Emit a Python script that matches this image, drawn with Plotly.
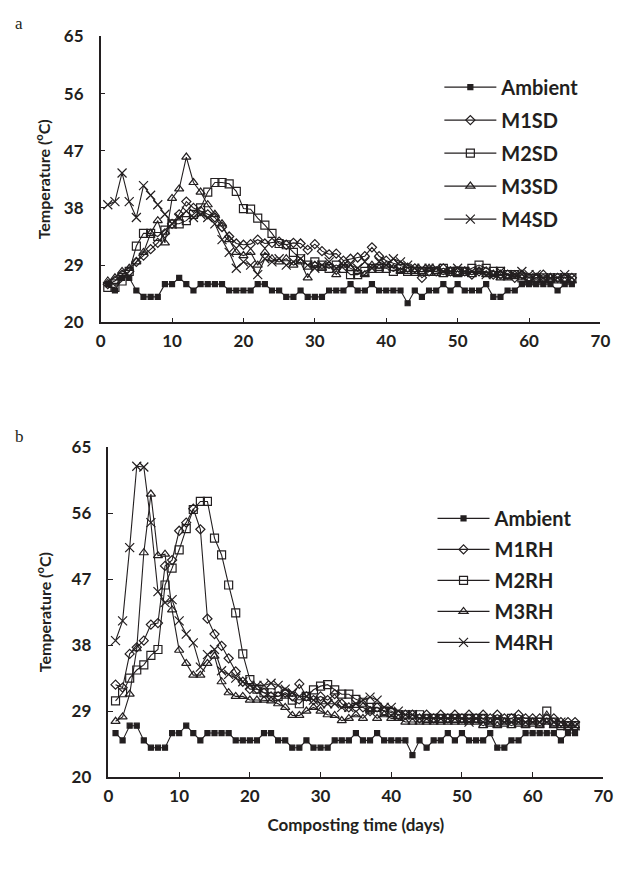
import plotly.graph_objects as go

# ---------------- data ----------------
days = list(range(1, 67))

ambient = [26, 25, 27, 27, 25, 24, 24, 24, 26, 26,
           27, 26, 25, 26, 26, 26, 26, 25, 25, 25,
           25, 26, 26, 25, 25, 24, 24, 25, 24, 24,
           24, 25, 25, 25, 26, 25, 25, 26, 25, 25,
           25, 25, 23, 25, 24, 25, 25, 26, 25, 26,
           25, 25, 25, 26, 24, 24, 25, 25, 26, 26,
           26, 26, 26, 25, 26, 26]

m1sd = [26, 26.5, 27.5, 28, 29.5, 30.5, 31.5, 32.5, 34, 35.5,
        37, 39, 38, 37.5, 37, 36.5, 35, 33.5, 32.4, 32.2,
        32.3, 33, 32.4, 32.5, 32.7, 32.2, 32.5, 32.4, 31.4, 32.3,
        31.2, 30.7, 30.8, 29.7, 30, 30.2, 30.4, 31.8, 30.4, 29.7,
        29.3, 28.9, 28.6, 28.5, 27, 28, 28, 28.5, 28, 28,
        28, 27.5, 28, 28, 27.5, 27.5, 27.5, 27, 27.5, 27,
        27, 27.5, 27, 27, 27, 27]

m2sd = [25.5, 25.5, 26.5, 28, 32, 34, 34, 33.5, 34.5, 35.5,
        35.5, 36, 37, 38, 40.5, 42, 42, 41.8, 40.6, 37.9,
        37.8, 36.4, 35.3, 34, 32.4, 32.2, 31, 30, 29, 29.5,
        29, 28.5, 29, 28.5, 27.5, 27.5, 28, 28.5, 28.5, 28.5,
        28, 28.5, 28, 28, 28, 28, 28, 28.5, 28, 28,
        28, 28.5, 29, 28.5, 28, 28, 27.5, 27.5, 27, 26.5,
        27, 27, 27, 27, 27, 27]

m3sd = [26.5, 27, 28, 28.5, 29.5, 31, 34, 36, 32.5, 39.5,
        41, 46, 42, 40.5, 38.5, 37, 35.5, 33, 31, 30.5,
        31, 29, 31, 30, 29.5, 30, 29, 29.5, 27, 29,
        28.5, 29, 27.5, 29, 28.5, 28, 27.5, 29, 28.5, 29,
        28.5, 28, 28, 28, 28, 28.5, 28, 27.5, 28, 27.5,
        28, 27.5, 28, 27.5, 27.5, 27, 27, 27.5, 27, 26.5,
        27, 26.5, 27, 26.5, 26.5, 26.5]

m4sd = [38.5, 39, 43.5, 39, 36.5, 41.5, 40, 38.5, 37, 35.5,
        36.5, 37.5, 36.5, 37, 36.5, 35.5, 33, 31, 28.5, 29.5,
        29, 27.5, 30, 29.5, 30, 29, 29.5, 30, 29, 28.5,
        29, 29.5, 28.5, 29, 29, 28.5, 29.5, 28.5, 29.5, 29,
        30, 29.5, 29, 28.5, 28.5, 28.5, 28.5, 28, 28, 28.5,
        28, 28, 28, 27.5, 27.5, 28, 27.5, 27.5, 28, 27.5,
        27.5, 27, 27, 27, 27.5, 27]

m1rh = [32.6, 32.2, 36.8, 37.7, 38.6, 40.8, 41, 48.8, 49.6, 53.6,
        54.7, 56.6, 53.8, 41.6, 39.5, 37.9, 36.2, 34.4, 33, 32,
        32, 31.5, 31, 31, 31.5, 31, 32.7, 31, 30.5, 31,
        30.5, 31.3, 30, 29.5, 29.5, 29.5, 29, 29.5, 29, 29,
        28.5, 28.5, 28.5, 28, 28.5, 28, 28.5, 28, 28.5, 28,
        28.5, 28, 28.5, 28, 28.5, 28, 28, 28.5, 28, 28,
        28, 28, 28, 27.5, 27.5, 27.5]

m2rh = [30.4, 31.5, 33.5, 34.6, 35.3, 36.6, 37.4, 46.2, 48.5, 51,
        53.9, 56.5, 57.6, 57.6, 52.6, 50.3, 46.2, 42.4, 36.8, 33.3,
        32, 31.5, 31.5, 31, 31.3, 30.5, 30, 31, 31.9, 32.4,
        32.6, 31.9, 31.3, 31.3, 30.6, 30.2, 29.5, 29.5, 29, 28.8,
        28.5, 28.5, 28.5, 28.5, 28, 28, 28, 28, 28, 28,
        28, 28, 28, 27.5, 27.5, 27.5, 28, 27.5, 27.5, 27.5,
        27.5, 29, 27.5, 27, 27, 27]

m3rh = [27.6, 28.2, 31.3, 37.5, 50.6, 58.6, 50.2, 50.4, 42.8, 37.3,
        35.5, 33.9, 33.9, 35.5, 36.5, 33, 31.5, 31, 31, 30.5,
        30.5, 30.5, 30.4, 30, 29.5, 28.4, 28.4, 29, 29.5, 29,
        28.5, 28.4, 27.7, 28, 28.5, 28, 29, 28, 28.5, 28,
        28, 27.5, 27.5, 27.5, 27.5, 27.5, 27.5, 27.5, 27.5, 27.5,
        27.5, 27.5, 27, 27.5, 27, 27.5, 27, 27.5, 27, 27.5,
        27, 27.5, 27, 27, 27, 27]

m4rh = [38.6, 41.3, 51.3, 62.4, 62.3, 54.7, 45.3, 43.8, 44.2, 41.3,
        39.5, 38.3, 35, 36.7, 37.4, 34.5, 34, 33.5, 33, 32.5,
        32.5, 32.5, 32.8, 32.5, 32, 31.5, 31, 31, 30.5, 30,
        30, 30, 29.5, 29.5, 30, 30.5, 30.9, 30.5, 29.5, 29.5,
        29, 28.5, 28.5, 28, 28, 28, 28, 28, 28, 28,
        27.5, 28, 27.5, 27.5, 28, 27.5, 27.5, 27.5, 27.5, 27.5,
        27.5, 27.5, 27.5, 27.5, 27, 27]

y_ticks = [20, 29, 38, 47, 56, 65]
x_ticks = [0, 10, 20, 30, 40, 50, 60, 70]

names_a = ["Ambient", "M1SD", "M2SD", "M3SD", "M4SD"]
names_b = ["Ambient", "M1RH", "M2RH", "M3RH", "M4RH"]
values_a = [ambient, m1sd, m2sd, m3sd, m4sd]
values_b = [ambient, m1rh, m2rh, m3rh, m4rh]

# ---------------- style ----------------
W, H = 627, 869
INK = "#231f20"
FONT = "Lato"
symbols = ["square", "diamond-open", "square-open", "triangle-up-open", "x-thin-open"]
sizes = [5, 7, 8, 8, 9]


def fx(p):
    return p / W


def fy(p):
    return 1 - p / H


fig = go.Figure()

for panel, (names, values, xa, ya, leg) in enumerate([
        (names_a, values_a, "x", "y", "legend"),
        (names_b, values_b, "x2", "y2", "legend2")]):
    for i, (nm, vals) in enumerate(zip(names, values)):
        fig.add_trace(go.Scatter(
            x=days, y=vals, name=nm, mode="lines+markers",
            xaxis=xa, yaxis=ya, legend=leg, legendgroup=f"{panel}-{i}",
            line=dict(color=INK, width=1.1),
            marker=dict(symbol=symbols[i], size=sizes[i], color=INK,
                        line=dict(color=INK, width=1.2)),
        ))

tick_font = dict(family=FONT, size=17, color=INK, weight="bold")
axis_common = dict(showline=True, linecolor=INK, linewidth=1.5, ticks="inside",
                   ticklen=5, tickwidth=1.3, tickcolor=INK, showgrid=False,
                   zeroline=False, mirror=False, tickfont=tick_font)
ytitle_font = dict(family=FONT, size=16, color=INK, weight="bold")

fig.update_layout(
    width=W, height=H, margin=dict(l=0, r=0, t=0, b=0),
    paper_bgcolor="white", plot_bgcolor="white",
    xaxis=dict(domain=[fx(98), fx(610)], range=[0, 70], tickvals=x_ticks,
               anchor="y", ticklabelstandoff=3, **axis_common),
    yaxis=dict(domain=[fy(319), fy(26)], range=[20, 65], tickvals=y_ticks,
               anchor="x", ticklabelstandoff=12,
               title=dict(text="Temperature (<sup>o</sup>C)", font=ytitle_font,
                          standoff=9),
               **axis_common),
    xaxis2=dict(domain=[fx(106), fx(613)], range=[0, 70], tickvals=x_ticks,
                anchor="y2", ticklabelstandoff=3,
                title=dict(text="Composting time (days)",
                           font=dict(family=FONT, size=17, color=INK, weight="bold"),
                           standoff=14),
                **axis_common),
    yaxis2=dict(domain=[fy(785), fy(447)], range=[20, 65], tickvals=y_ticks,
                anchor="x2", ticklabelstandoff=12,
                title=dict(text="Temperature (<sup>o</sup>C)", font=ytitle_font,
                           standoff=16),
                **axis_common),
    legend=dict(x=fx(445), y=fy(58), xanchor="left", yanchor="top",
                font=dict(family=FONT, size=20, color=INK, weight="bold"),
                bgcolor="rgba(0,0,0,0)", tracegroupgap=4, itemwidth=52),
    legend2=dict(x=fx(438), y=fy(500), xanchor="left", yanchor="top",
                 font=dict(family=FONT, size=20, color=INK, weight="bold"),
                 bgcolor="rgba(0,0,0,0)", tracegroupgap=2, itemwidth=52),
    showlegend=True,
    annotations=[
        dict(text="a", x=fx(8), y=fy(13), xref="paper", yref="paper",
             xanchor="left", yanchor="middle", showarrow=False,
             font=dict(family="Liberation Serif", size=17, color=INK)),
        dict(text="b", x=fx(8), y=fy(436), xref="paper", yref="paper",
             xanchor="left", yanchor="middle", showarrow=False,
             font=dict(family="Liberation Serif", size=17, color=INK)),
    ],
)

fig.write_html("out.html", config={"displayModeBar": False},
               post_script="document.body.style.margin='0px';")
